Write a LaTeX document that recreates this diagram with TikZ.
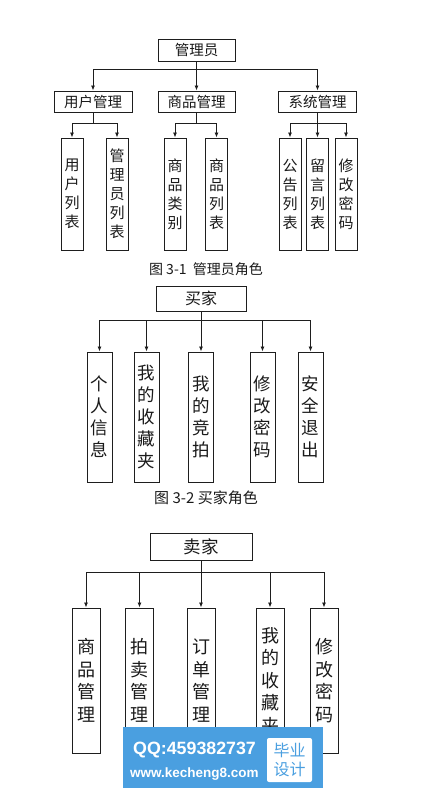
\documentclass[tikz,border=0pt]{standalone}
\usepackage{fontspec}
\newfontfamily\cjk{Noto Sans CJK SC}
\newfontfamily\wmfont{Liberation Sans}
\usetikzlibrary{arrows.meta}
\definecolor{ln}{HTML}{1E1E1E}
\definecolor{txt}{HTML}{1A1A1A}
\definecolor{wmblue}{HTML}{4A9FE0}
\begin{document}
\begin{tikzpicture}[x=1pt,y=-1pt,
  box/.style={draw=ln, line width=1pt, fill=white, inner sep=0pt, text=txt, align=center},
  leafA/.style={box, minimum width=22pt, minimum height=112pt, font=\cjk\fontsize{15}{19}\selectfont},
  leafB/.style={box, minimum width=25pt, minimum height=130pt, font=\cjk\fontsize{17.5}{22}\selectfont},
  leafC/.style={box, minimum width=28pt, minimum height=145pt, font=\cjk\fontsize{18}{22.5}\selectfont},
  midbox/.style={box, minimum width=78pt, minimum height=21pt, font=\cjk\fontsize{14.5}{17}\selectfont},
  conn/.style={draw=ln, line width=0.8pt},
  arr/.style={conn, -{Latex[length=5pt,width=4pt]}},
  caption/.style={text=txt, inner sep=0pt}
]
\fill[white] (0,0) rectangle (446,793);
\useasboundingbox (0,0) rectangle (446,793);

% ---------------- Diagram 1 ----------------
\node[box, minimum width=77pt, minimum height=22pt, font=\cjk\fontsize{14.5}{17}\selectfont] (r1) at (196.5,50) {管理员};
\node[midbox] (u) at (93,101.5) {用户管理};
\node[midbox, minimum width=77pt] (g) at (196.5,101.5) {商品管理};
\node[midbox] (s) at (317.5,101.5) {系统管理};
\coordinate (b1) at (196.5,69);
\draw[conn] (r1.south) -- (b1);
\draw[conn] (u.north |- b1) -- (s.north |- b1);
\draw[arr] (u.north |- b1) -- (u.north);
\draw[arr] (g.north |- b1) -- (g.north);
\draw[arr] (s.north |- b1) -- (s.north);

\node[leafA] (u1) at (72,194) {用\\户\\列\\表};
\node[leafA] (u2) at (117,194) {管\\理\\员\\列\\表};
\node[leafA] (g1) at (175,194) {商\\品\\类\\别};
\node[leafA] (g2) at (216.5,194) {商\\品\\列\\表};
\node[leafA] (s1) at (290,194) {公\\告\\列\\表};
\node[leafA] (s2) at (317.5,194) {留\\言\\列\\表};
\node[leafA] (s3) at (346,194) {修\\改\\密\\码};

\coordinate (ub) at (93,123);
\coordinate (gb) at (196.5,123);
\coordinate (sb) at (317.5,123);
\draw[conn] (u.south) -- (ub);
\draw[conn] (u1.north |- ub) -- (u2.north |- ub);
\draw[arr] (u1.north |- ub) -- (u1.north);
\draw[arr] (u2.north |- ub) -- (u2.north);
\draw[conn] (g.south) -- (gb);
\draw[conn] (g1.north |- gb) -- (g2.north |- gb);
\draw[arr] (g1.north |- gb) -- (g1.north);
\draw[arr] (g2.north |- gb) -- (g2.north);
\draw[conn] (s.south) -- (sb);
\draw[conn] (s1.north |- sb) -- (s3.north |- sb);
\draw[arr] (s1.north |- sb) -- (s1.north);
\draw[arr] (s2.north |- sb) -- (s2.north);
\draw[arr] (s3.north |- sb) -- (s3.north);

\node[caption, font=\cjk\fontsize{14}{16}\selectfont] (cap1) at (206,269) {图 3-1\ \ 管理员角色};

% ---------------- Diagram 2 ----------------
\node[box, minimum width=90pt, minimum height=25pt, font=\cjk\fontsize{16}{19}\selectfont] (r2) at (201,298.5) {买家};
\node[leafB] (m1) at (99.5,417) {个\\人\\信\\息};
\node[leafB] (m2) at (146.5,417) {我\\的\\收\\藏\\夹};
\node[leafB] (m3) at (201,417) {我\\的\\竞\\拍};
\node[leafB] (m4) at (262.5,417) {修\\改\\密\\码};
\node[leafB] (m5) at (310.5,417) {安\\全\\退\\出};
\coordinate (b2) at (201,320);
\draw[conn] (r2.south) -- (b2);
\draw[conn] (m1.north |- b2) -- (m5.north |- b2);
\foreach \n in {m1,m2,m3,m4,m5} \draw[arr] (\n.north |- b2) -- (\n.north);

\node[caption, font=\cjk\fontsize{15}{17}\selectfont] (cap2) at (206,498) {图 3-2 买家角色};

% ---------------- Diagram 3 ----------------
\node[box, minimum width=102pt, minimum height=27pt, font=\cjk\fontsize{17.5}{20}\selectfont] (r3) at (201,546.5) {卖家};
\node[leafC] (k1) at (86,680.5) {商\\品\\管\\理};
\node[leafC] (k2) at (139.5,680.5) {拍\\卖\\管\\理};
\node[leafC] (k3) at (201,680.5) {订\\单\\管\\理};
\node[leafC] (k4) at (270,680.5) {我\\的\\收\\藏\\夹};
\node[leafC] (k5) at (324,680.5) {修\\改\\密\\码};
\coordinate (b3) at (201,572);
\draw[conn] (r3.south) -- (b3);
\draw[conn] (k1.north |- b3) -- (k5.north |- b3);
\foreach \n in {k1,k2,k3,k4,k5} \draw[arr] (\n.north |- b3) -- (\n.north);

% ---------------- Watermark ----------------
\node[fill=wmblue, minimum width=200pt, minimum height=61pt, inner sep=0pt] (wm) at (223,757.5) {};
\node[text=white, inner sep=0pt, anchor=west, font=\wmfont\bfseries\fontsize{17.8}{20}\selectfont] (qq) at (133,750.5) {QQ:459382737};
\node[text=white, inner sep=0pt, anchor=west, font=\wmfont\bfseries\fontsize{13.5}{16}\selectfont] (www) at (130,774) {www.kecheng8.com};
\node[fill=white, rounded corners=2pt, minimum width=45pt, minimum height=44pt, inner sep=0pt, text=wmblue, align=center, font=\cjk\fontsize{16}{18.5}\selectfont] (bx) at (289.5,760) {毕业\\设计};
\end{tikzpicture}
\end{document}
